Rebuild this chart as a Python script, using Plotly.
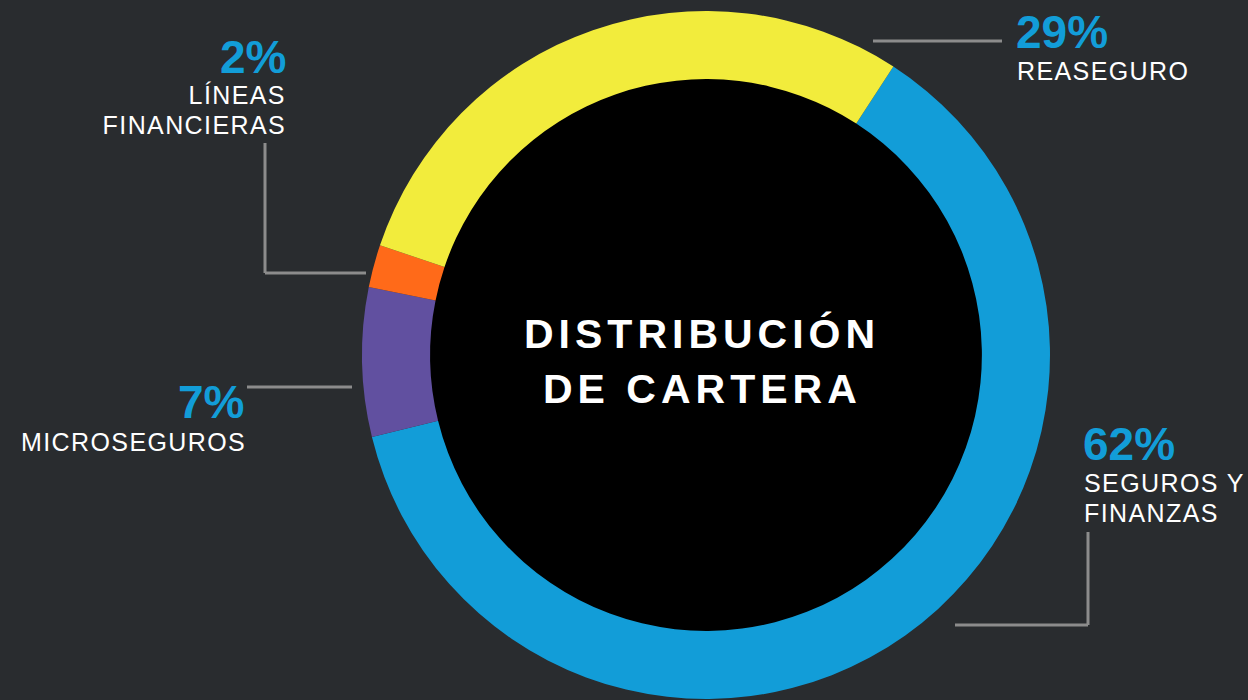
import plotly.graph_objects as go

W, H = 1248, 700

# ---- data ----
categories = ["SEGUROS Y FINANZAS", "MICROSEGUROS", "LÍNEAS FINANCIERAS", "REASEGURO"]
shares = [62, 7, 2, 29]
colors = ["#129dd8", "#6150a0", "#ff6a19", "#f2ec3c"]
pct_labels = ["62%", "7%", "2%", "29%"]
label_lines = [["SEGUROS Y", "FINANZAS"], ["MICROSEGUROS"], ["LÍNEAS", "FINANCIERAS"], ["REASEGURO"]]
center_title = ["DISTRIBUCIÓN", "DE CARTERA"]

BG = "#292c2f"
BLUE_TXT = "#129dd8"
LINE_COL = "#8c8c8c"

# pie geometry (pixels)
cx, cy, R = 706, 355, 344
hole = 0.802

def px(x):
    return x / W

def py(y):
    return 1 - y / H

fig = go.Figure()
fig.add_trace(go.Pie(
    labels=categories, values=shares, sort=False, direction="clockwise",
    rotation=33.0, hole=hole, textinfo="none", hoverinfo="label+percent",
    marker=dict(colors=colors, line=dict(width=0)),
    domain=dict(x=[px(cx - R), px(cx + R)], y=[py(cy + R), py(cy - R)]),
    showlegend=False,
))

r_in = R * hole + 1
shapes = [dict(type="circle", xref="paper", yref="paper", layer="below",
               x0=px(cx - r_in), x1=px(cx + r_in), y0=py(cy + r_in), y1=py(cy - r_in),
               fillcolor="black", line=dict(width=0))]

# leader lines (pixel polylines)
leaders = [
    [(955, 625), (1088, 625), (1088, 532)],
    [(247, 387), (352, 387)],
    [(265, 143), (265, 273), (366, 273)],
    [(873, 41), (1002, 41)],
]
for pts in leaders:
    for (x0, y0), (x1, y1) in zip(pts[:-1], pts[1:]):
        shapes.append(dict(type="line", xref="paper", yref="paper",
                           x0=px(x0), y0=py(y0), x1=px(x1), y1=py(y1),
                           line=dict(color=LINE_COL, width=3)))

annotations = []

def add_text(text, x, baseline, size, color, bold=False, anchor="left"):
    top = baseline - 0.905 * size - 1
    annotations.append(dict(
        text=f"<b>{text}</b>" if bold else text, xref="paper", yref="paper",
        x=px(x), y=py(top), xanchor=anchor, yanchor="top", showarrow=False,
        align=anchor,
        font=dict(family="Liberation Sans, Arial, sans-serif", size=size, color=color),
        borderpad=1,
    ))

# label positions: (x, anchor, pct baseline, first label baseline)
label_pos = [
    (1082, "left", 459, 491),
    (245, "right", 417, 450),
    (287, "right", 72, 103),
    (1015, "left", 47, 79),
]
for pct, lines, (x, anc, pb, lb) in zip(pct_labels, label_lines, label_pos):
    add_text(pct, x + (-1 if anc == "left" else 1), pb, 46, BLUE_TXT, bold=True, anchor=anc)
    if anc == "right" and len(lines) == 1:
        # microseguros label is left aligned at the far left
        add_text(lines[0], 19, lb, 25, "white", anchor="left")
    else:
        for i, ln in enumerate(lines):
            add_text(ln, x + (1 if anc == "right" else 0), lb + 30 * i, 25, "white", anchor=anc)

for i, ln in enumerate(center_title):
    add_text(ln, 702, 347 + 55 * i, 41, "white", bold=True, anchor="center")

fig.update_layout(
    width=W, height=H, margin=dict(l=0, r=0, t=0, b=0),
    paper_bgcolor=BG, plot_bgcolor=BG,
    shapes=shapes, annotations=annotations,
)

js = """
document.body.style.margin='0';
document.body.style.overflow='hidden';
document.body.style.background='%s';
document.querySelectorAll('.annotation-text').forEach(function(el){
  var fs = parseFloat(el.style.fontSize || window.getComputedStyle(el).fontSize);
  if (fs === 25) { el.style.letterSpacing = '1.4px'; }
  else if (fs === 41) { el.style.letterSpacing = '5px'; }
});
""" % BG

fig.write_html("out.html", config={"displayModeBar": False}, post_script=js)
